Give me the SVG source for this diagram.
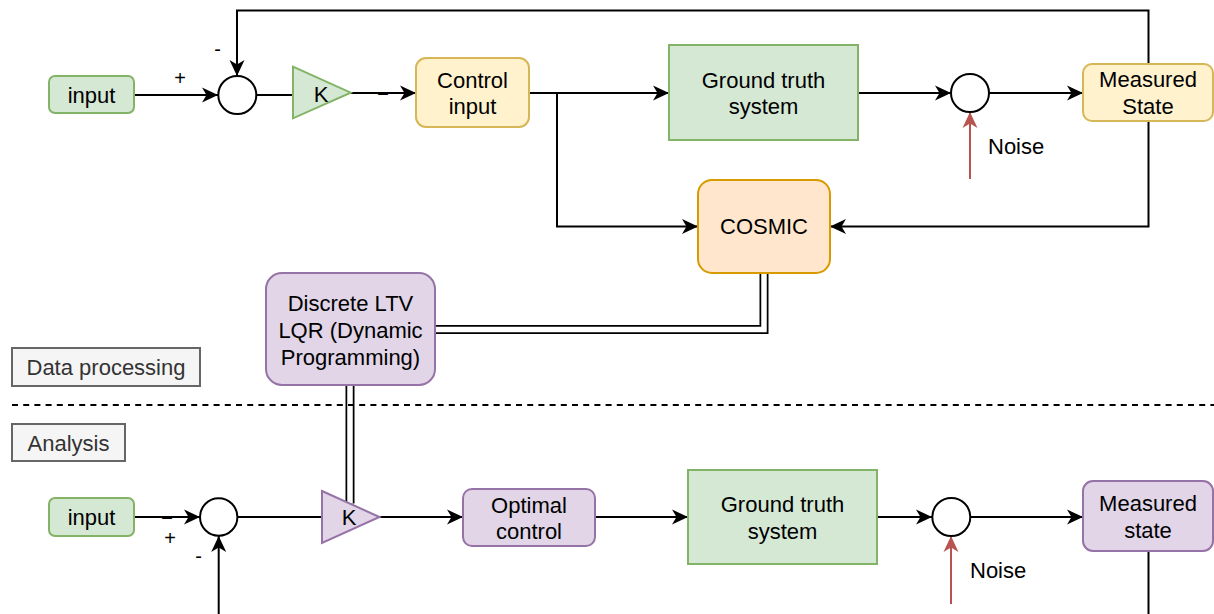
<svg xmlns="http://www.w3.org/2000/svg" width="1214" height="614" viewBox="0 0 1214 614">
<defs>
<marker id="arr" markerUnits="userSpaceOnUse" markerWidth="17" markerHeight="16" refX="16" refY="7.5" orient="auto" overflow="visible">
<path d="M0,0 L16,7.5 L0,15 L4.5,7.5 Z" fill="#000"/>
</marker>
<marker id="arrR" markerUnits="userSpaceOnUse" markerWidth="17" markerHeight="16" refX="16" refY="7.5" orient="auto" overflow="visible">
<path d="M0,0 L16,7.5 L0,15 L4.5,7.5 Z" fill="#b85450"/>
</marker>
<style>
text{font-family:"Liberation Sans",Arial,sans-serif;font-size:22px;fill:#000;text-anchor:middle}
.edge{fill:none;stroke:#000;stroke-width:2}
.arrow{marker-end:url(#arr)}
.noise{fill:none;stroke:#b85450;stroke-width:2;marker-end:url(#arrR)}
.green{fill:#d5e8d4;stroke:#82b366;stroke-width:2}
.yellow{fill:#fff2cc;stroke:#d6b656;stroke-width:2}
.orange{fill:#ffe6cc;stroke:#d79b00;stroke-width:2}
.purple{fill:#e1d5e7;stroke:#9673a6;stroke-width:2}
.sum{fill:#fff;stroke:#000;stroke-width:2}
.label{fill:#f5f5f5;stroke:#666;stroke-width:2}
.lbltxt{fill:#333}
.sign{font-size:20px}
.dash{font-size:20px;font-weight:bold}
.start{text-anchor:start}
.linkO{fill:none;stroke:#000;stroke-width:9}
.linkI{fill:none;stroke:#fff;stroke-width:5.5}
</style>
</defs>
<rect width="1214" height="614" fill="#fff"/>

<g id="connectors">
<path class="edge arrow" d="M134,95 H218"/>
<path class="edge arrow" d="M1148.5,64 V10.5 H237 V76"/>
<path class="edge" d="M256,95 H294"/>
<path class="edge arrow" d="M351,93 H416"/>
<path class="edge arrow" d="M529,93 H669"/>
<path class="edge arrow" d="M557,93 V226.5 H698"/>
<path class="edge arrow" d="M858,93 H951"/>
<path class="edge arrow" d="M989,93 H1083"/>
<path class="edge arrow" d="M1148.5,121 V226.5 H830"/>
<path class="noise" d="M970,179 V112"/>
<path class="linkO" d="M764,273 V329.5 H435"/>
<path class="linkI" d="M764,273 V329.5 H435"/>
<path class="linkO" d="M350,385 V503.5"/>
<path class="linkI" d="M350,385 V503.5"/>
<path class="edge arrow" d="M134,517 H200"/>
<path class="edge arrow" d="M218.7,614 V536"/>
<path class="edge" d="M237.5,517 H323"/>
<path class="edge arrow" d="M380,517 H463"/>
<path class="edge arrow" d="M595,517 H688"/>
<path class="edge arrow" d="M877,517 H932"/>
<path class="edge arrow" d="M970,517 H1083"/>
<path class="edge" d="M1148.5,551 V614"/>
<path class="noise" d="M951,604 V536"/>
</g>

<g id="sign-labels">
<text class="sign" x="180" y="85">+</text>
<text class="sign" x="217.5" y="55.5">-</text>
<text class="dash" x="383" y="98.5">–</text>
<text class="dash" x="167" y="522.5">–</text>
<text class="sign" x="170" y="545">+</text>
<text class="sign" x="198.5" y="563">-</text>
</g>

<g id="divider">
<line x1="12" y1="405" x2="1214" y2="405" stroke="#000" stroke-width="2" stroke-dasharray="6 5.2"/>
</g>

<g id="label-data-processing">
<rect class="label" x="12" y="348" width="188" height="38"/>
<text class="lbltxt" x="106" y="375">Data processing</text>
</g>
<g id="label-analysis">
<rect class="label" x="12" y="424" width="113" height="37"/>
<text class="lbltxt" x="68.5" y="450.5">Analysis</text>
</g>

<g id="input-top">
<rect class="green" x="49" y="76" width="85" height="37" rx="6"/>
<text x="91.5" y="102.5">input</text>
</g>
<g id="sum-top">
<circle class="sum" cx="237.3" cy="95" r="19"/>
</g>
<g id="gain-top">
<path class="green" d="M293,66.7 L350.7,92.7 L293,118.3 Z"/>
<text x="321" y="101.5">K</text>
</g>
<g id="control-input">
<rect class="yellow" x="416" y="58" width="113" height="69" rx="10"/>
<text x="472.5" y="88">Control</text>
<text x="472.5" y="114">input</text>
</g>
<g id="ground-truth-top">
<rect class="green" x="669" y="45" width="189" height="95"/>
<text x="763.5" y="87.5">Ground truth</text>
<text x="763.5" y="114">system</text>
</g>
<g id="noise-sum-top">
<circle class="sum" cx="970" cy="93" r="19"/>
<text class="start" x="988" y="154">Noise</text>
</g>
<g id="measured-state-top">
<rect class="yellow" x="1083" y="64" width="130" height="57" rx="9"/>
<text x="1148" y="87">Measured</text>
<text x="1148" y="114">State</text>
</g>
<g id="cosmic">
<rect class="orange" x="698" y="180" width="132" height="93" rx="14"/>
<text x="764" y="234">COSMIC</text>
</g>
<g id="lqr">
<rect class="purple" x="266" y="273" width="169" height="112" rx="16"/>
<text x="350.5" y="311">Discrete LTV</text>
<text x="350.5" y="338">LQR (Dynamic</text>
<text x="350.5" y="365">Programming)</text>
</g>

<g id="input-bottom">
<rect class="green" x="49" y="498" width="85" height="38" rx="6"/>
<text x="91.5" y="525">input</text>
</g>
<g id="sum-bottom">
<circle class="sum" cx="218.7" cy="517" r="18.7"/>
</g>
<g id="gain-bottom">
<path class="purple" d="M322,491 L379.5,517 L322,543 Z"/>
<text x="349" y="525">K</text>
</g>
<g id="optimal-control">
<rect class="purple" x="463" y="489" width="132" height="57" rx="9"/>
<text x="529" y="512.5">Optimal</text>
<text x="529" y="538.5">control</text>
</g>
<g id="ground-truth-bottom">
<rect class="green" x="688" y="470" width="189" height="94"/>
<text x="782.5" y="511.5">Ground truth</text>
<text x="782.5" y="538.5">system</text>
</g>
<g id="noise-sum-bottom">
<circle class="sum" cx="951.3" cy="517" r="19"/>
<text class="start" x="970" y="578">Noise</text>
</g>
<g id="measured-state-bottom">
<rect class="purple" x="1083" y="481" width="130" height="70" rx="10"/>
<text x="1148" y="510.5">Measured</text>
<text x="1148" y="537.5">state</text>
</g>
</svg>
